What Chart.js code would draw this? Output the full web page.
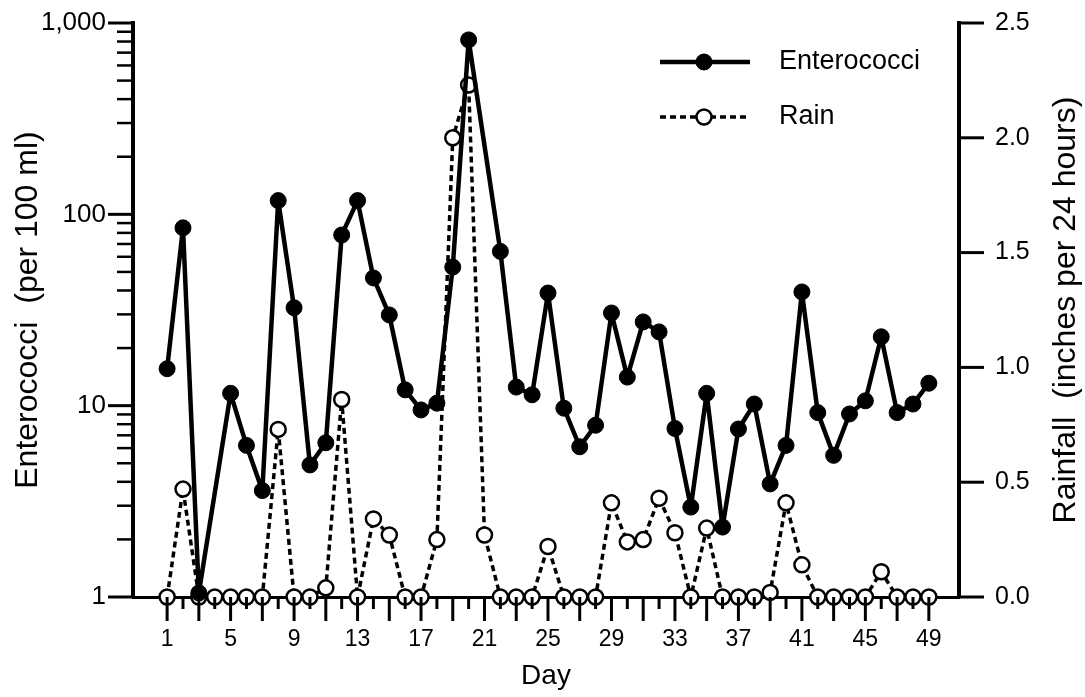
<!DOCTYPE html>
<html>
<head>
<meta charset="utf-8">
<script src="https://cdn.jsdelivr.net/npm/chart.js@4/dist/chart.umd.min.js"></script>
<style>
  html, body { margin: 0; padding: 0; background: #fff; }
  #wrap { width: 1085px; height: 697px; }
</style>
</head>
<body>
<div id="wrap"><canvas id="chart" width="1085" height="697"></canvas></div>
<script>
// days 1..49, enterococci per 100 ml (null = no sample), rain in inches per 24 h
const days = [1, 2, 3, 4, 5, 6, 7, 8, 9, 10, 11, 12, 13, 14, 15, 16, 17, 18, 19, 20,
  21, 22, 23, 24, 25, 26, 27, 28, 29, 30, 31, 32, 33, 34, 35, 36, 37, 38, 39, 40,
  41, 42, 43, 44, 45, 46, 47, 48, 49];
const enterococci = [15.6, 85, 1.05, null, 11.6, 6.2, 3.6, 118, 32.5, 4.9,
  6.4, 78, 118, 46.5, 29.8, 12.1, 9.5, 10.3, 53, 816,
  null, 64, 12.5, 11.4, 38.8, 9.7, 6.1, 7.9, 30.5, 14.1,
  27.4, 24.3, 7.6, 2.95, 11.6, 2.32, 7.55, 10.2, 3.9, 6.2,
  39.3, 9.2, 5.5, 9.05, 10.6, 22.9, 9.2, 10.2, 13.1];
const rain = [0, 0.47, 0, 0, 0, 0, 0, 0.73, 0, 0,
  0.04, 0.86, 0, 0.34, 0.27, 0, 0, 0.25, 2.0, 2.23,
  0.27, 0, 0, 0, 0.22, 0, 0, 0, 0.41, 0.24,
  0.25, 0.43, 0.28, 0, 0.30, 0, 0, 0, 0.02, 0.41,
  0.14, 0, 0, 0, 0, 0.11, 0, 0, 0];
const dayLabels = [1, 5, 9, 13, 17, 21, 25, 29, 33, 37, 41, 45, 49];
const countTicks = [1, 10, 100, 1000];
const rainTicks = [0, 0.5, 1.0, 1.5, 2.0, 2.5];

const FONT = '"Liberation Sans", Arial, Helvetica, sans-serif';

function withCommas(v) {
  return String(v).replace(/\B(?=(\d{3})+(?!\d))/g, ',');
}

// tick marks drawn by hand: long/short like the original print
const tickMarks = {
  id: 'tickMarks',
  afterDraw(chart) {
    const ctx = chart.ctx;
    const {x, y, y1} = chart.scales;
    ctx.save();
    ctx.strokeStyle = '#000';
    const line = (x0, y0, x1, yy1, w) => {
      ctx.lineWidth = w;
      ctx.beginPath();
      ctx.moveTo(x0, y0);
      ctx.lineTo(x1, yy1);
      ctx.stroke();
    };
    y.ticks.forEach(t => {
      const p = y.getPixelForValue(t.value);
      const major = countTicks.includes(t.value);
      line(y.right - (major ? 25 : 16), p, y.right, p, major ? 3 : 2.5);
    });
    y1.ticks.forEach(t => {
      const p = y1.getPixelForValue(t.value);
      line(y1.left, p, y1.left + 25, p, 3);
    });
    x.ticks.forEach(t => {
      const p = x.getPixelForValue(t.value);
      const long = t.value % 2 === 1;
      line(p, x.top, p, x.top + (long ? 24 : 12), 3);
    });
    // right-hand title reads bottom to top, like the left one
    ctx.fillStyle = '#000';
    ctx.font = '32px ' + FONT;
    ctx.textAlign = 'center';
    ctx.textBaseline = 'middle';
    ctx.translate(1066, (y1.top + y1.bottom) / 2);
    ctx.rotate(-Math.PI / 2);
    ctx.fillText('Rainfall  (inches per 24 hours)', 0, 0);
    ctx.restore();
  }
};

// legend: line sample with marker in the middle, as in the figure
const sampleLegend = {
  id: 'sampleLegend',
  afterDraw(chart) {
    const ctx = chart.ctx;
    const rows = [
      {ds: chart.data.datasets[0], y: 62},
      {ds: chart.data.datasets[1], y: 117}
    ];
    ctx.save();
    rows.forEach(r => {
      ctx.strokeStyle = '#000';
      ctx.lineWidth = r.ds.borderWidth;
      ctx.setLineDash(r.ds.borderDash || []);
      ctx.beginPath();
      ctx.moveTo(660, r.y);
      ctx.lineTo(750, r.y);
      ctx.stroke();
      ctx.setLineDash([]);
      ctx.beginPath();
      ctx.arc(704, r.y, r.ds.pointRadius, 0, Math.PI * 2);
      ctx.fillStyle = r.ds.pointBackgroundColor;
      ctx.fill();
      ctx.lineWidth = r.ds.pointBorderWidth;
      ctx.stroke();
      ctx.fillStyle = '#000';
      ctx.font = '27px ' + FONT;
      ctx.textBaseline = 'middle';
      ctx.textAlign = 'left';
      ctx.fillText(r.ds.label, 779, r.y);
    });
    ctx.restore();
  }
};

// vertical axes: fixed width, no extra room above/below for tick labels
const fixY = w => s => { s.width = w; s.paddingTop = 0; s.paddingBottom = 0; };

new Chart(document.getElementById('chart'), {
  type: 'line',
  data: {
    datasets: [
      {
        label: 'Enterococci',
        data: days.map((d, i) => ({x: d, y: enterococci[i]})),
        yAxisID: 'y',
        borderColor: '#000',
        borderWidth: 4.5,
        borderJoinStyle: 'round',
        pointRadius: 8,
        pointBackgroundColor: '#000',
        pointBorderColor: '#000',
        pointBorderWidth: 1,
        spanGaps: true,
        tension: 0,
        clip: false,
        order: 0
      },
      {
        label: 'Rain',
        data: days.map((d, i) => ({x: d, y: rain[i]})),
        yAxisID: 'y1',
        borderColor: '#000',
        borderWidth: 3.5,
        borderDash: [6, 4],
        borderJoinStyle: 'round',
        pointRadius: 7.5,
        pointBackgroundColor: '#fff',
        pointBorderColor: '#000',
        pointBorderWidth: 2.5,
        tension: 0,
        clip: false,
        order: 1
      }
    ]
  },
  options: {
    responsive: false,
    animation: false,
    layout: { autoPadding: false, padding: { top: 23, left: 0, right: 0, bottom: 0 } },
    plugins: {
      legend: { display: false },
      tooltip: { enabled: false }
    },
    scales: {
      x: {
        type: 'linear',
        min: -1.15,
        max: 50.9,
        afterBuildTicks: s => { s.ticks = days.map(d => ({value: d})); },
        afterFit: s => { s.height = 100; s.paddingLeft = 0; s.paddingRight = 0; },
        grid: { display: false, drawTicks: false },
        border: { display: true, color: '#000', width: 3 },
        ticks: {
          autoSkip: false,
          maxRotation: 0,
          padding: 29,
          color: '#000',
          font: { family: FONT, size: 23 },
          callback: v => dayLabels.includes(v) ? String(v) : ''
        },
        title: {
          display: true,
          text: 'Day',
          color: '#000',
          font: { family: FONT, size: 28 },
          padding: { top: 0, bottom: 4 }
        }
      },
      y: {
        type: 'logarithmic',
        position: 'left',
        min: 1,
        max: 1000,
        afterBuildTicks: s => {
          const t = [];
          countTicks.forEach((v, i) => {
            if (i < countTicks.length - 1) {
              for (let k = 1; k < 10; k++) t.push({value: v * k});
            } else {
              t.push({value: v});
            }
          });
          s.ticks = t;
        },
        afterFit: fixY(133),
        grid: { display: false, drawTicks: false },
        border: { display: true, color: '#000', width: 4 },
        ticks: {
          autoSkip: false,
          padding: 27,
          color: '#000',
          font: { family: FONT, size: 26 },
          callback: v => countTicks.includes(v) ? withCommas(v) : ''
        },
        title: {
          display: true,
          text: 'Enterococci  (per 100 ml)',
          color: '#000',
          font: { family: FONT, size: 32 },
          padding: { top: 9, bottom: 0 }
        }
      },
      y1: {
        type: 'linear',
        position: 'right',
        min: 0,
        max: 2.5,
        afterBuildTicks: s => { s.ticks = rainTicks.map(v => ({value: v})); },
        afterFit: fixY(126),
        grid: { display: false, drawTicks: false },
        border: { display: true, color: '#000', width: 4 },
        ticks: {
          autoSkip: false,
          padding: 36,
          color: '#000',
          font: { family: FONT, size: 25 },
          callback: v => v.toFixed(1)
        },
        title: { display: false }
      }
    }
  },
  plugins: [tickMarks, sampleLegend]
});
</script>
</body>
</html>
